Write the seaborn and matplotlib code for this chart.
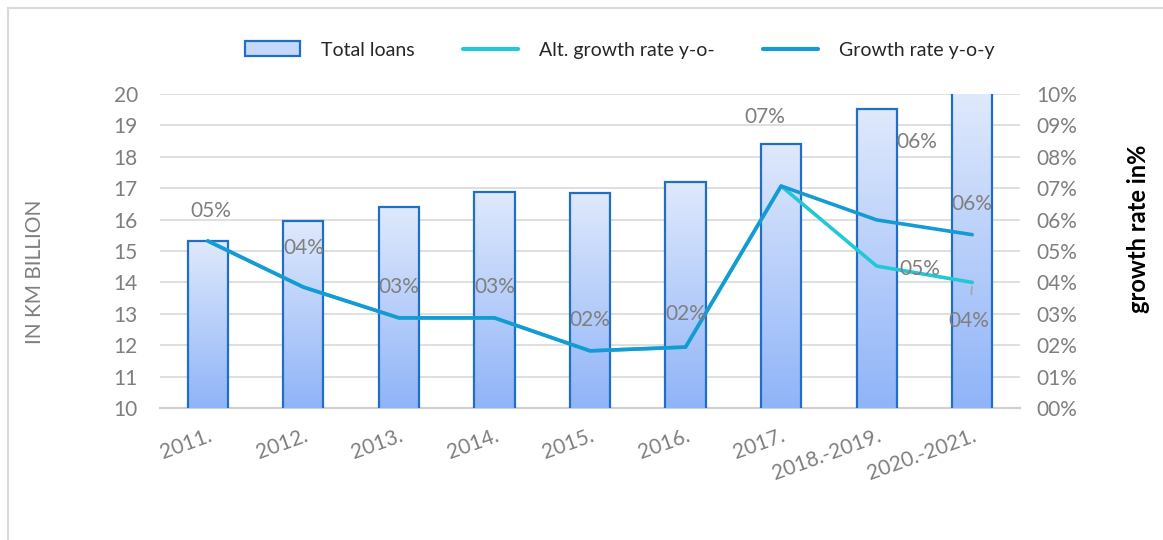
import numpy as np
import pandas as pd
import matplotlib
matplotlib.use("Agg")
import matplotlib.pyplot as plt
import seaborn as sns
from matplotlib.patches import Patch
from matplotlib.lines import Line2D
from matplotlib.colors import LinearSegmentedColormap

# ---- data ----
categories = ["2011.", "2012.", "2013.", "2014.", "2015.", "2016.", "2017.", "2018.-2019.", "2020.-2021."]
total_loans = [15.32, 15.96, 16.40, 16.88, 16.85, 17.20, 18.41, 19.52, 20.60]
growth_rate = [5.32, 3.85, 2.87, 2.87, 1.82, 1.94, 7.07, 5.99, 5.52]
alt_growth_rate = [5.32, 3.85, 2.87, 2.87, 1.82, 1.94, 7.07, 4.52, 4.00]
left_ticks = list(range(10, 21))
right_ticks = list(range(0, 11))
right_tick_labels = [f"{v:02d}%" for v in right_ticks]

sns.set_theme(style="white")
plt.rcParams['font.family'] = ['Lato', 'DejaVu Sans']

GRAY = "#7f7f7f"
BAR_EDGE = "#1f6fc6"
GROWTH_C = "#159ad4"
ALT_C = "#22c8d6"
FS = 15

fig = plt.figure(figsize=(11.63, 5.40), dpi=100)
ax = fig.add_axes([160/1163, 1-408/540, 860/1163, 314/540])

df = pd.DataFrame({"cat": categories, "loans": total_loans})
sns.barplot(data=df, x="cat", y="loans", ax=ax, width=0.42, color="#c5d8fa",
            edgecolor=BAR_EDGE, linewidth=1.6, zorder=3)
ax.set_ylim(10, 20)
ax.set_xlim(-0.5, len(categories) - 0.5)

# gradient fill of bars
cmap = LinearSegmentedColormap.from_list("barg", ["#90b4f8", "#dfe9fc"])
grad = np.linspace(0, 1, 256).reshape(-1, 1)
for p in list(ax.patches):
    x0 = p.get_x(); w = p.get_width(); h = p.get_height()
    top = min(h, 20)
    im = ax.imshow(grad, cmap=cmap, origin="lower", aspect="auto",
                   extent=[x0, x0 + w, 10, top], zorder=2.5)
    im.set_clip_path(p)
    p.set_facecolor("none")
ax.set_xlim(-0.5, len(categories) - 0.5)
ax.set_ylim(10, 20)

ax.set_yticks(left_ticks)
ax.yaxis.grid(True, color="#d9d9d9", linewidth=1.2, zorder=0)
ax.set_axisbelow(True)
for s in ["left", "right", "top"]:
    ax.spines[s].set_visible(False)
ax.spines["bottom"].set_color("#d0d0d0")
ax.spines["bottom"].set_linewidth(1.6)
ax.spines["bottom"].set_zorder(1)
ax.tick_params(axis="y", colors=GRAY, labelsize=FS, length=0, pad=16)
ax.tick_params(axis="x", colors=GRAY, labelsize=FS, length=0, pad=13)
for lbl in ax.get_xticklabels():
    lbl.set_rotation(20)
    lbl.set_ha("right")
    lbl.set_va("top")
    lbl.set_rotation_mode("anchor")
ax.set_xlabel("")
ax.set_ylabel("IN KM BILLION", color=GRAY, fontsize=15)
ax.yaxis.set_label_coords((45 - 160) / 860, (408 - 272) / 314)

# ---- right axis: growth rates ----
ax2 = ax.twinx()
xs = np.arange(len(categories))
sns.lineplot(x=xs, y=alt_growth_rate, ax=ax2, color=ALT_C, linewidth=2.6, zorder=4)
sns.lineplot(x=xs, y=growth_rate, ax=ax2, color=GROWTH_C, linewidth=2.6, zorder=5)
ax2.set_ylim(0, 10)
ax2.set_yticks(right_ticks)
ax2.set_yticklabels(right_tick_labels)
ax2.tick_params(axis="y", colors=GRAY, labelsize=FS, length=0, pad=12)
for s in ax2.spines.values():
    s.set_visible(False)
ax2.set_ylabel("growth rate in%", color="black", fontsize=17, fontweight="bold")
ax2.yaxis.set_label_coords((1127 - 160) / 860, (408 - 229) / 314)
ax2.set_xlim(-0.5, len(categories) - 0.5)

# data labels (offsets in pixels)
growth_offsets = [(3, 30), (0, 39), (0, 31), (0, 31), (0, 31), (0, 33), (-16, 69), (40, 78), (0, 31)]
for i, (v, off) in enumerate(zip(growth_rate, growth_offsets)):
    ax2.annotate(f"{round(v):02d}%", (i, v), xytext=off, textcoords="offset pixels",
                 ha="center", va="center", color=GRAY, fontsize=FS, zorder=6)
ax2.annotate(f"{round(alt_growth_rate[7]):02d}%", (7, alt_growth_rate[7]), xytext=(43, -3),
             textcoords="offset pixels", ha="center", va="center", color=GRAY, fontsize=FS, zorder=6)
ax2.annotate(f"{round(alt_growth_rate[8]):02d}%", (8, alt_growth_rate[8]), xytext=(-3, -39),
             textcoords="offset pixels", ha="center", va="center", color=GRAY, fontsize=FS, zorder=6,
             arrowprops=dict(arrowstyle="-", color="#a6a6a6", lw=1.2, shrinkA=10, shrinkB=3))

# ---- legend ----
handles = [Patch(facecolor="#c5d8fa", edgecolor=BAR_EDGE, linewidth=1.6),
           Line2D([], [], color=ALT_C, linewidth=3),
           Line2D([], [], color=GROWTH_C, linewidth=3)]
labels = ["Total loans", "Alt. growth rate y-o-", "Growth rate y-o-y"]
fig.legend(handles, labels, loc="center", bbox_to_anchor=(620/1163, 1-50/540), ncol=3,
           frameon=False, fontsize=14, handlelength=2.8, handleheight=0.8,
           handletextpad=1.1, columnspacing=2.5)

# border
fig.add_artist(Line2D([8/1163, 1], [1-8/540, 1-8/540], color="#d9d9d9", lw=1.5, transform=fig.transFigure))
fig.add_artist(Line2D([8/1163, 8/1163], [0, 1-8/540], color="#d9d9d9", lw=1.5, transform=fig.transFigure))

fig.savefig("out.png", dpi=100)
